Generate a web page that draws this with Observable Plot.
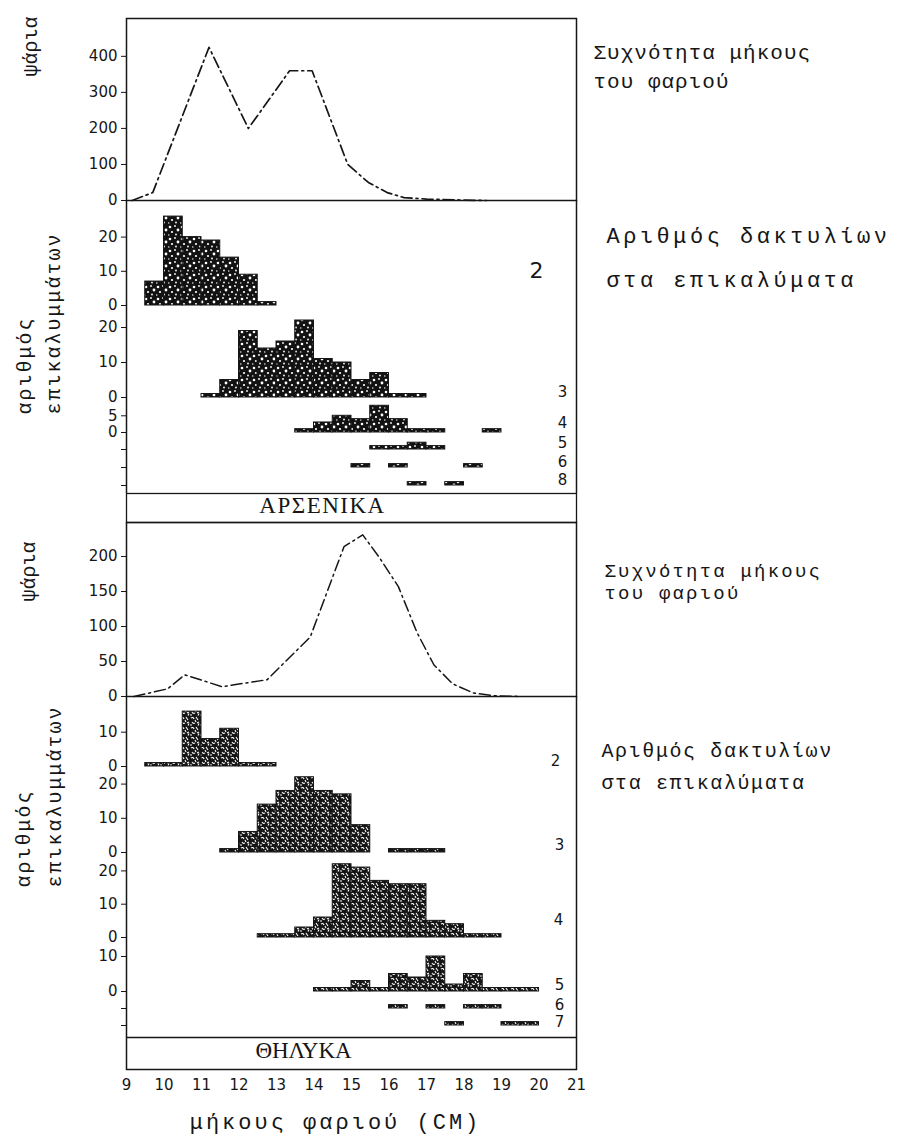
<!DOCTYPE html>
<html>
<head>
<meta charset="utf-8">
<script src="https://cdn.jsdelivr.net/npm/d3@7"></script>
<script src="https://cdn.jsdelivr.net/npm/@observablehq/plot@0.6"></script>
<style>
  body { margin: 0; background: #fff; }
  #chart { position: relative; width: 919px; height: 1148px; background: #fff; overflow: hidden; }
  #chart > svg { position: absolute; left: 0; overflow: visible; background: transparent !important; }
  g[aria-description="lsA"] text { letter-spacing: 1px; }
  g[aria-description="lsB"] text { letter-spacing: 1.6px; }
  g[aria-description="lsC"] text { letter-spacing: 2px; }
  g[aria-description="lsD"] text { letter-spacing: 3.5px; }
  g[aria-description="lsE"] text { letter-spacing: 1.5px; }
  g[aria-description="lsF"] text { letter-spacing: 3px; }
  g[aria-description="lsG"] text { letter-spacing: 2.2px; }
</style>
</head>
<body>
<svg width="0" height="0" style="position:absolute">
  <defs>
    <pattern id="speckM" width="12" height="12" patternUnits="userSpaceOnUse">
      <rect width="12" height="12" fill="#121212"/>
      <circle cx="2" cy="3" r="1.3" fill="#fff"/>
      <circle cx="7" cy="2" r="0.9" fill="#fff"/>
      <circle cx="10" cy="6" r="1.4" fill="#fff"/>
      <circle cx="4" cy="8" r="1.1" fill="#fff"/>
      <circle cx="8" cy="10.5" r="0.9" fill="#fff"/>
      <circle cx="0.8" cy="11" r="0.7" fill="#fff"/>
    </pattern>
    <pattern id="speckF" width="10" height="10" patternUnits="userSpaceOnUse">
      <rect width="10" height="10" fill="#151515"/>
      <path d="M1 2 q2 -1.5 3 1 M6 1 l2 3 M2 6 q1 2 3 1 M7 7 l2 -1 M5 4 l1 2 M0 9 l2 0 M8 9.5 l1 -2" stroke="#fff" stroke-width="1.1" fill="none"/>
    </pattern>
  </defs>
</svg>
<div id="chart"></div>
<script>
// ---------------- data ----------------
const xDomain = [9, 21];
const xTicks = [9, 10, 11, 12, 13, 14, 15, 16, 17, 18, 19, 20, 21];
const binWidth = 0.5;

// Males (ΑΡΣΕΝΙΚΑ): length frequency polygon
const maleLenCm = [9.15, 9.7, 11.2, 12.25, 13.35, 13.95, 14.9, 15.45, 15.95, 16.4, 17.0, 18.0, 18.6];
const maleFish  = [0, 22, 425, 200, 360, 360, 100, 50, 22, 8, 4, 1, 0];
const maleFishTicks = [0, 100, 200, 300, 400];

// Males: number of scales per ring count (bin lower edge, count)
const m2Start = [9.5, 10, 10.5, 11, 11.5, 12, 12.5];
const m2Count = [7, 26, 20, 19, 14, 9, 1];
const m3Start = [11, 11.5, 12, 12.5, 13, 13.5, 14, 14.5, 15, 15.5, 16, 16.5];
const m3Count = [1, 5, 19, 14, 16, 22, 11, 10, 5, 7, 1, 1];
const m4Start = [13.5, 14, 14.5, 15, 15.5, 16, 16.5, 17, 18.5];
const m4Count = [1, 3, 5, 4, 8, 4, 1, 1, 1];
const m5Start = [15.5, 16, 16.5, 17];
const m5Count = [1, 1, 2, 1];
const m6Start = [15, 16, 18];
const m6Count = [1, 1, 1];
const m8Start = [16.5, 17.5];
const m8Count = [1, 1];

// Females (ΘΗΛΥΚΑ): length frequency polygon
const femaleLenCm = [9.2, 10.1, 10.55, 11.55, 12.75, 13.9, 14.8, 15.3, 15.75, 16.25, 16.75, 17.2, 17.7, 18.25, 18.8, 19.5];
const femaleFish  = [0, 11, 31, 14, 24, 85, 214, 231, 198, 157, 91, 45, 18, 5, 1, 0];
const femaleFishTicks = [0, 50, 100, 150, 200];

// Females: number of scales per ring count
const f2Start = [9.5, 10, 10.5, 11, 11.5, 12, 12.5];
const f2Count = [1, 1, 16, 8, 11, 1, 1];
const f3Start = [11.5, 12, 12.5, 13, 13.5, 14, 14.5, 15, 16, 16.5, 17];
const f3Count = [1, 6, 14, 18, 22, 18, 17, 8, 1, 1, 1];
const f4Start = [12.5, 13, 13.5, 14, 14.5, 15, 15.5, 16, 16.5, 17, 17.5, 18, 18.5];
const f4Count = [1, 1, 3, 6, 22, 21, 17, 16, 16, 5, 4, 1, 1];
const f5Start = [14, 14.5, 15, 15.5, 16, 16.5, 17, 17.5, 18, 18.5, 19, 19.5];
const f5Count = [1, 1, 3, 1, 5, 4, 10, 2, 5, 1, 1, 1];
const f6Start = [16, 17, 18, 18.5];
const f6Count = [1, 1, 1, 1];
const f7Start = [17.5, 19, 19.5];
const f7Count = [1, 1, 1];

// ---------------- rendering ----------------
const chart = document.getElementById("chart");
const SANS = "DejaVu Sans", MONO = "Liberation Mono", SERIF = "Liberation Serif";
const INK = "#161616";
const W = 919, FRAME_L = 126, FRAME_R = 576;

function base(height, marginTop = 0, marginBottom = 0) {
  return {
    width: W, height, marginLeft: FRAME_L, marginRight: W - FRAME_R, marginTop, marginBottom,
    style: {fontFamily: SANS, fontSize: "15px", color: INK, background: "transparent", overflow: "visible"}
  };
}
function put(svg, top) { svg.style.top = top + "px"; chart.appendChild(svg); }
const zip = (xs, ys, kx, ky) => xs.map((v, i) => ({[kx]: v, [ky]: ys[i]}));

function ringLabel(txt, dx, dy, size = 15) {
  return Plot.text([txt], {y: () => 0, frameAnchor: "right", dx, dy, textAnchor: "middle", lineAnchor: "middle",
    fontFamily: SANS, fontSize: size, fill: INK});
}
function sideLabel(txt, frameAnchor, dx, dy, opts = {}) {
  return Plot.text([txt], {frameAnchor, dx, dy, rotate: -90, textAnchor: "middle", lineAnchor: "middle",
    fontFamily: MONO, fontSize: 20, fill: INK, ...opts});
}
function noteLabel(txt, frameAnchor, dx, dy, opts = {}) {
  return Plot.text([txt], {frameAnchor, dx, dy, textAnchor: "start", lineAnchor: "top",
    fontFamily: MONO, fill: INK, ...opts});
}

function row({starts, counts, height, k, below = 0, ticks, labelTicks = true, pat, extra = []}) {
  const data = zip(starts, counts, "s", "c");
  return Plot.plot({
    ...base(height),
    x: {domain: xDomain, axis: null},
    y: {domain: [-below / k, (height - below) / k], ticks, tickSize: 5, tickPadding: 4, label: null,
        tickFormat: labelTicks ? (d => String(d)) : (() => "")},
    marks: [
      Plot.ruleX(xDomain, {stroke: INK, strokeWidth: 1.5}),
      Plot.rect(data, {x1: "s", x2: d => d.s + binWidth, y1: () => 0, y2: "c", fill: pat, stroke: INK, strokeWidth: 1}),
      ...extra
    ]
  });
}

// --- Males: length frequency
put(Plot.plot({
  ...base(200, 18, 0),
  x: {domain: xDomain, axis: null},
  y: {domain: [0, 505], ticks: maleFishTicks, tickSize: 5, tickPadding: 4, label: null},
  marks: [
    Plot.frame({stroke: INK, strokeWidth: 1.5}),
    Plot.line(zip(maleLenCm, maleFish, "len", "n"), {x: "len", y: "n", stroke: INK, strokeWidth: 1.7, strokeDasharray: "11,4,2,4"}),
    sideLabel("ψάρια", "top-left", -96, 28),
    noteLabel("Συχνότητα μήκους\nτου φαριού", "top-right", 17, 20, {fontSize: 21, lineHeight: 1.38, ariaDescription: "lsA"})
  ]
}), 0);

// --- Males: scales by ring count
put(row({starts: m2Start, counts: m2Count, height: 105, k: 3.42, ticks: [0, 10, 20], pat: "url(#speckM)", extra: [
  Plot.text(["2"], {frameAnchor: "top-right", dx: -40, dy: 70, textAnchor: "middle", lineAnchor: "middle", fontFamily: SANS, fontSize: 22, fill: INK}),
  noteLabel("Αριθμός δακτυλίων\nστα επικαλύματα", "top-right", 30, 11, {fontSize: 22, lineHeight: 2.0, ariaDescription: "lsD"})
]}), 200);
put(row({starts: m3Start, counts: m3Count, height: 92, k: 3.5, ticks: [0, 10, 20], pat: "url(#speckM)", extra: [ringLabel("3", -14, -5)]}), 305);
put(row({starts: m4Start, counts: m4Count, height: 35, k: 3.34, ticks: [0, 5], pat: "url(#speckM)", extra: [
  ringLabel("4", -14, -9),
  sideLabel("αριθμός\nεπικαλυμμάτων", "bottom-left", -90, -18, {textAnchor: "start", lineHeight: 1.45, ariaDescription: "lsC"})
]}), 397);
put(row({starts: m5Start, counts: m5Count, height: 17, k: 3.4, ticks: [0], labelTicks: false, pat: "url(#speckM)", extra: [ringLabel("5", -14, -6)]}), 432);
put(row({starts: m6Start, counts: m6Count, height: 18, k: 3.4, ticks: [0], labelTicks: false, pat: "url(#speckM)", extra: [ringLabel("6", -14, -5)]}), 449);
put(row({starts: m8Start, counts: m8Count, height: 26, k: 3.4, below: 8, ticks: [0], labelTicks: false, pat: "url(#speckM)", extra: [ringLabel("8", -14, -5)]}), 467);

// --- Males band
put(Plot.plot({
  ...base(29),
  x: {domain: xDomain, axis: null}, y: {axis: null},
  marks: [
    Plot.frame({stroke: INK, strokeWidth: 1.3}),
    Plot.text(["ΑΡΣΕΝΙΚΑ"], {frameAnchor: "middle", dx: -29, dy: -2, fontFamily: SERIF, fontSize: 23, fill: INK, ariaDescription: "lsE"})
  ]
}), 493);

// --- Females: length frequency
put(Plot.plot({
  ...base(174),
  x: {domain: xDomain, axis: null},
  y: {domain: [0, 248.6], ticks: femaleFishTicks, tickSize: 5, tickPadding: 4, label: null},
  marks: [
    Plot.frame({stroke: INK, strokeWidth: 1.5}),
    Plot.line(zip(femaleLenCm, femaleFish, "len", "n"), {x: "len", y: "n", stroke: INK, strokeWidth: 1.5, strokeDasharray: "11,4,2,4"}),
    sideLabel("ψάρια", "top-left", -98, 49),
    noteLabel("Συχνότητα μήκους\nτου φαριού", "top-right", 28, 39, {fontSize: 19, lineHeight: 1.15, ariaDescription: "lsG"})
  ]
}), 522);

// --- Females: scales by ring count
put(row({starts: f2Start, counts: f2Count, height: 70, k: 3.43, ticks: [0, 10], pat: "url(#speckF)", extra: [
  ringLabel("2", -21, -5),
  noteLabel("Αριθμός δακτυλίων\nστα επικαλύματα", "top-right", 25, 38, {fontSize: 20, lineHeight: 1.6, ariaDescription: "lsB"})
]}), 696);
put(row({starts: f3Start, counts: f3Count, height: 86, k: 3.42, ticks: [0, 10, 20], pat: "url(#speckF)", extra: [ringLabel("3", -17, -7)]}), 766);
put(row({starts: f4Start, counts: f4Count, height: 85, k: 3.33, ticks: [0, 10, 20], pat: "url(#speckF)", extra: [
  ringLabel("4", -18, -17),
  sideLabel("αριθμός\nεπικαλυμμάτων", "bottom-left", -91, -50, {textAnchor: "start", lineHeight: 1.55, ariaDescription: "lsC"})
]}), 852);
put(row({starts: f5Start, counts: f5Count, height: 54, k: 3.5, ticks: [0, 10], pat: "url(#speckF)", extra: [ringLabel("5", -17, -6)]}), 937);
put(row({starts: f6Start, counts: f6Count, height: 17, k: 3.4, ticks: [0], labelTicks: false, pat: "url(#speckF)", extra: [ringLabel("6", -17, -3)]}), 991);
put(row({starts: f7Start, counts: f7Count, height: 29, k: 3.4, below: 12, ticks: [0], labelTicks: false, pat: "url(#speckF)", extra: [ringLabel("7", -17, -3)]}), 1008);

// --- Females band + length axis
put(Plot.plot({
  ...base(111, 0, 79),
  x: {domain: xDomain}, y: {axis: null},
  marks: [
    Plot.frame({stroke: INK, strokeWidth: 1.5}),
    Plot.axisX(xTicks, {tickSize: 0, tickPadding: 10, label: null, fontSize: 15}),
    Plot.text(["ΘΗΛΥΚΑ"], {frameAnchor: "middle", dx: -48, dy: -3, fontFamily: SERIF, fontSize: 23, fill: INK}),
    Plot.text(["μήκους φαριού (CM)"], {frameAnchor: "bottom", dx: -16, dy: 59, fontFamily: MONO, fontSize: 22, fill: INK, ariaDescription: "lsF"})
  ]
}), 1037);
</script>
</body>
</html>
